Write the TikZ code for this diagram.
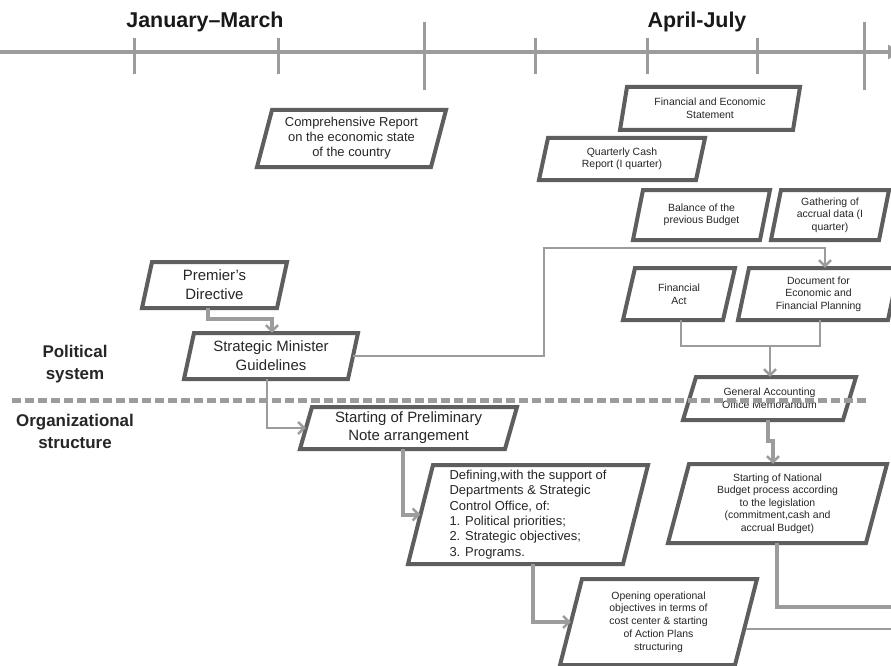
\documentclass[tikz,border=0pt]{standalone}
\usepackage{fontspec}
\setmainfont{Liberation Sans}
\usetikzlibrary{arrows.meta}
\definecolor{boxc}{HTML}{5E5E5E}
\definecolor{linec}{HTML}{9C9C9C}
\definecolor{txt}{HTML}{262626}
% #1 name, #2 TLx, #3 TRx, #4 top y, #5 bottom y, #6 slant, #7 node options, #8 text
\newcommand{\pgbox}[8]{%
  \draw[pbox] (#2,#4) -- (#3,#4) -- ({#3-#6},#5) -- ({#2-#6},#5) -- cycle;
  \node[lbl,#7,minimum width={(#3-#2)*1bp},minimum height={(#5-#4)*1bp}] (#1)
    at ({(#2+#3-#6)/2},{(#4+#5)/2}) {#8};
}
\begin{document}
\begin{tikzpicture}[x=1bp,y=-1bp,
  pbox/.style={draw=boxc,line width=4bp,fill=white,line join=miter},
  lbl/.style={text=txt,align=center,inner sep=0pt},
  big/.style={font=\fontsize{15}{19}\selectfont},
  mid/.style={font=\fontsize{13}{15}\selectfont},
  small/.style={font=\fontsize{10.5}{12.6}\selectfont},
  thickc/.style={draw=linec,line width=4bp},
  thinc/.style={draw=linec,line width=2bp},
  arr/.style={-{Straight Barb[length=6bp,width=12bp,line width=2.5bp]}},
  tick/.style={draw=linec,line width=3bp},
  head/.style={font=\bfseries\fontsize{21.5}{24}\selectfont,text=black!90,inner sep=0pt},
  side/.style={font=\bfseries\fontsize{17}{22}\selectfont,text=txt,align=center,inner sep=0pt},
]
\useasboundingbox[fill=white] (0,0) rectangle (891,666);

% timeline
\draw[draw=linec,line width=4bp,-{Triangle[length=12bp,width=14bp]}] (0,52) -- (900,52);
\foreach \x in {134,278,535,647,757} \draw[tick] (\x,38) -- (\x,74);
\foreach \x in {424,864} \draw[tick] (\x,22) -- (\x,90);
\node[head] (jm) at (205,22) {January–March};
\node[head] (aj) at (697,22) {April-July};

% side labels
\node[side] (pol) at (75,364) {Political\\system};
\node[side] (org) at (75,431) {Organizational\\structure};

% boxes
\pgbox{comp}{272}{446}{110}{167}{15}{mid}{Comprehensive Report\\on the economic state\\of the country}
\pgbox{prem}{152}{287}{262}{308}{10}{big}{Premier's\\Directive}
\pgbox{strat}{194}{358}{333}{379}{10}{big}{Strategic Minister\\Guidelines}
\pgbox{fes}{627}{800}{87}{130}{7}{small}{Financial and Economic\\Statement}
\pgbox{qcr}{548}{705}{138}{180}{9}{small}{Quarterly Cash\\Report (I quarter)}
\pgbox{bal}{643}{770}{190}{240}{10}{small}{Balance of the\\previous Budget}
\pgbox{gath}{781}{889}{190}{240}{10}{small}{Gathering of\\accrual data (I\\quarter)}
\pgbox{fact}{635}{735}{268}{320}{12}{small}{Financial\\Act}
\pgbox{doc}{749}{899}{268}{320}{11}{small}{Document for\\Economic and\\Financial Planning}
\pgbox{gao}{696}{856}{377}{420}{13}{small}{General Accounting\\Office Memorandum}
\pgbox{snb}{689}{887}{464}{543}{21}{small}{Starting of National\\Budget process according\\to the legislation\\(commitment,cash and\\accrual Budget)}
\pgbox{prel}{312}{517}{407}{449}{12}{big,font=\fontsize{15}{18}\selectfont}{Starting of Preliminary\\Note arrangement}
\pgbox{def}{433}{648}{465}{564}{25}{align=left,font=\fontsize{13}{15.4}\selectfont}{Defining,with the support of\\Departments \& Strategic\\Control Office, of:\\1. Political priorities;\\2. Strategic objectives;\\3. Programs.}
\pgbox{open}{582}{757}{579}{665}{22}{small,font=\fontsize{10.5}{12.8}\selectfont}{Opening operational\\objectives in terms of\\cost center \& starting\\of Action Plans\\structuring}

% dashed separator (drawn over the memorandum box)
\draw[draw=linec,line width=5bp,dash pattern=on 9bp off 4bp] (12,400) -- (867,400);

% connectors
\draw[thickc,arr] (prem.south -| 208,0) |- (272,319) -- (strat.north -| 272,0);
\draw[thinc,arr] (strat.east) -- (544,356) |- (825,248) -- (doc.north -| 825,0);
\draw[thinc,arr] (strat.south -| 267,0) |- (prel.west);
\draw[thickc,arr] (prel.south -| 403,0) |- (def.west);
\draw[thickc,arr] (def.south -| 533,0) |- (open.west);
\coordinate (j1) at (770,346);
\draw[thinc] (fact.south -| 681,0) |- (j1) -| (doc.south -| 820,0);
\draw[thinc,arr] (j1) -- (gao.north -| 770,0);
\draw[thickc,arr] (gao.south -| 768,0) -- (768,441) -- (773,441) -- (snb.north -| 773,0);
\coordinate (e1) at (891,607);
\draw[thickc] (snb.south -| 777,0) |- (e1);
\coordinate (e2) at (891,629);
\draw[thinc] (open.east |- e2) -- (e2);
\end{tikzpicture}
\end{document}
